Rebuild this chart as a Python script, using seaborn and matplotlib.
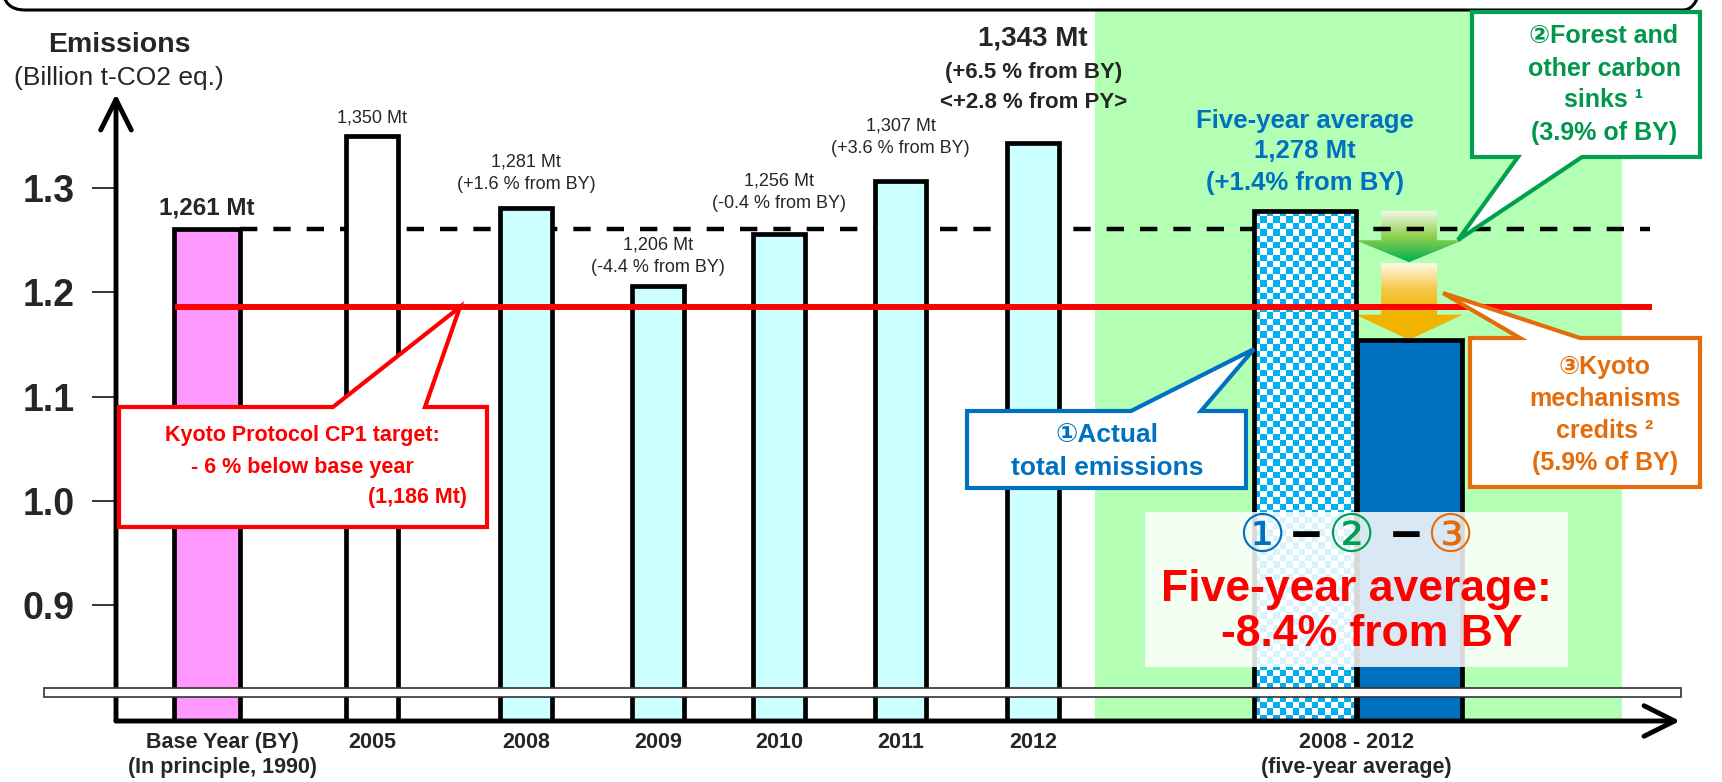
import numpy as np
import matplotlib
matplotlib.use('Agg')
import matplotlib.pyplot as plt
import matplotlib.transforms as mtransforms
from matplotlib.patches import Rectangle, Polygon, FancyBboxPatch
from matplotlib.colors import LinearSegmentedColormap, ListedColormap
import seaborn as sns

# ---- data: GHG emissions, billion t-CO2 eq. ----
categories = ['Base Year (BY)\n(In principle, 1990)', '2005', '2008', '2009',
              '2010', '2011', '2012']
emissions = [1.261, 1.350, 1.281, 1.206, 1.256, 1.307, 1.343]
pct_from_by = [None, None, 1.6, -4.4, -0.4, 3.6, 6.5]
pct_from_py_2012 = 2.8
avg_category = '2008 - 2012\n(five-year average)'
avg_emissions = 1.278
avg_pct_from_by = 1.4
target = 1.186            # Kyoto CP1 target, -6 % below BY
sinks_pct_of_by = 3.9
credits_pct_of_by = 5.9
final_pct_from_by = -8.4
yticks = [0.9, 1.0, 1.1, 1.2, 1.3]

base = emissions[0]
after_sinks = avg_emissions - base * sinks_pct_of_by / 100
after_credits = after_sinks - base * credits_pct_of_by / 100

sns.set_style('white')
plt.rcParams['font.family'] = ['Liberation Sans', 'DejaVu Sans', 'Noto Sans CJK JP']

BLUE, GREEN, ORANGE, RED = '#0070C0', '#00A050', '#E46C0A', '#FF0000'

W, H = 1722, 782
fig = plt.figure(figsize=(W / 100, H / 100), dpi=100)
pix = mtransforms.Affine2D().scale(1 / W, -1 / H).translate(0, 1) + fig.transFigure

YLO, YHI, XMAX = 0.789, 1.39, 28
ax = fig.add_axes([116 / W, (H - 721) / H, 1564 / W, (721 - 94) / H])
ax.set_facecolor('none')
for s in ax.spines.values():
    s.set_visible(False)
xppu = 1564 / XMAX
yppu = (721 - 94) / (YHI - YLO)

# layout of the bars
bar_x = [1.63, 4.58, 7.34, 9.70, 11.87, 14.05, 16.42]
bar_w = [1.19] + [0.92] * 6
bar_c = ['#FF99FF', 'white'] + ['#CCFFFF'] * 5
avg_x, avg_w = 21.29, 1.83
net_x, net_w = 23.15, 1.88
EDGE = 3.4

# green period background
ax.add_patch(Rectangle((17.53, YLO), 9.43, 1.4696 - YLO, fc='#B3FFB3', ec='none',
                       zorder=0, clip_on=False))

ax.bar(bar_x, emissions, width=bar_w, color=bar_c, edgecolor='black',
       linewidth=EDGE, zorder=3)

# five-year average (checkered) bar
cb = ax.bar(avg_x, avg_emissions, width=avg_w, color='white', zorder=3)[0]
ncol = 16
sq = avg_w / ncol * xppu
nrow = int(round((avg_emissions - YLO) * yppu / sq))
board = np.indices((nrow, ncol)).sum(axis=0) % 2
im = ax.imshow(board, extent=[cb.get_x(), cb.get_x() + cb.get_width(), YLO, avg_emissions],
               cmap=ListedColormap(['white', '#00B0F0']), interpolation='nearest',
               aspect='auto', origin='lower', zorder=3.1)
im.set_clip_path(cb)
ax.bar(avg_x, avg_emissions, width=avg_w, fill=False, edgecolor='black',
       linewidth=EDGE, zorder=3.2)
ax.bar(net_x, after_credits, width=net_w, color=BLUE, edgecolor='black',
       linewidth=EDGE, zorder=3)

# reference lines
ax.hlines(base, bar_x[0] + bar_w[0] / 2, 27.46, colors='black', lw=3.2,
          linestyles=(0, (3.9, 3.6)), zorder=2.5)
ax.hlines(target, 1.06, 27.5, colors=RED, lw=4.3, zorder=5)


def grad_arrow(xc, ytop, ytip, head, colors):
    hw, sw = 0.96, 0.5
    verts = [(xc - sw, ytop), (xc + sw, ytop), (xc + sw, ytip + head), (xc + hw, ytip + head),
             (xc, ytip), (xc - hw, ytip + head), (xc - sw, ytip + head)]
    poly = Polygon(verts, closed=True, fc='none', ec='none')
    ax.add_patch(poly)
    g = np.linspace(0, 1, 256).reshape(-1, 1)
    img = ax.imshow(g, extent=[xc - hw, xc + hw, ytip, ytop], origin='upper', aspect='auto',
                    cmap=LinearSegmentedColormap.from_list('g', colors), zorder=2.2)
    img.set_clip_path(poly)


grad_arrow(net_x, avg_emissions, after_sinks, 0.021, ['#F4FAEC', '#92D050', '#00B050'])
grad_arrow(net_x, after_sinks - 0.001, after_credits, 0.024,
           ['#FFFBEA', '#F6C94A', '#F0B400', '#F0B400'])

# broken-axis strip
ax.add_patch(Rectangle((-1.29, 0.8118), 29.31, 0.0086, fc='white', ec='#333333', lw=1.2,
                       zorder=6, clip_on=False))

# axes with arrow heads
arr = dict(arrowstyle='->,head_length=1.1,head_width=0.55', lw=3.5, color='black',
           shrinkA=0, shrinkB=0, mutation_scale=20)
ax.annotate('', xy=(XMAX, YLO), xytext=(0, YLO), arrowprops=arr, annotation_clip=False,
            zorder=5.5)
ax.annotate('', xy=(0, YHI), xytext=(0, YLO), arrowprops=arr, annotation_clip=False,
            zorder=5.5)


def stack(x, y, lines, gaps, **kw):
    for line, g in zip(lines, gaps):
        ax.annotate(line, xy=(x, y), xytext=(0, g), textcoords='offset pixels', ha='center',
                    va='center', annotation_clip=False, zorder=7, **kw)


label_gap = [21, 18, 23, 18, 30, 32, 41]
for i, (x, v) in enumerate(zip(bar_x, emissions)):
    mt = f'{v * 1000:,.0f} Mt'
    if i == 0:
        stack(x, v, [mt], [label_gap[i]], fontsize=17.5, fontweight='bold')
    elif i == len(emissions) - 1:
        stack(x, v, [mt], [label_gap[i] + 64], fontsize=20, fontweight='bold')
        stack(x, v, [f'({pct_from_by[i]:+.1f} % from BY)', f'<{pct_from_py_2012:+.1f} % from PY>'],
              [label_gap[i] + 30, label_gap[i]], fontsize=16, fontweight='bold')
    elif pct_from_by[i] is None:
        stack(x, v, [mt], [label_gap[i]], fontsize=13)
    else:
        stack(x, v, [mt, f'({pct_from_by[i]:+.1f} % from BY)'],
              [label_gap[i] + 23, label_gap[i]], fontsize=13)

stack(avg_x, avg_emissions,
      ['Five-year average', f'{avg_emissions * 1000:,.0f} Mt', f'({avg_pct_from_by:+.1f}% from BY)'],
      [90, 60, 28], fontsize=18.5, fontweight='bold', color=BLUE)

# ticks
ax.set_yticks(yticks, labels=[f'{t:.1f}' for t in yticks], fontsize=27, fontweight='bold')
ax.tick_params(axis='y', length=17, width=1.1, direction='out', pad=13, color='black',
               left=True)
label_x = [bar_x[0] + 0.27] + bar_x[1:] + [avg_x + avg_w / 2]
ax.set_xticks(label_x, labels=categories + [avg_category], fontsize=15.5,
              fontweight='bold', linespacing=1.25)
ax.tick_params(axis='x', length=0, pad=8)
ax.set_xlim(0, XMAX)
ax.set_ylim(YLO, YHI)
ax.set_aspect('auto')

# ---- figure-level decorations (pixel layout) ----
fig.add_artist(FancyBboxPatch((3, -80), 1702, 90, boxstyle='round,pad=0,rounding_size=22',
                              transform=pix, fc='none', ec='black', lw=2.2))


def ftext(x, y, s, **kw):
    kw.setdefault('ha', 'center')
    fig.text(x, y, s, transform=pix, va='center', zorder=10, **kw)


ftext(119, 45, 'Emissions', fontsize=20.5, fontweight='bold')
ftext(119, 78, '(Billion t-CO2 eq.)', fontsize=19)


def callout(box, side, b0, b1, tip, color):
    x0, y0, x1, y1 = box
    if side == 'top':
        verts = [(x0, y0), (b0, y0), tip, (b1, y0), (x1, y0), (x1, y1), (x0, y1)]
    else:
        verts = [(x0, y0), (x1, y0), (x1, y1), (b1, y1), tip, (b0, y1), (x0, y1)]
    fig.add_artist(Polygon(verts, closed=True, transform=pix, fc='white', ec=color, lw=3,
                           joinstyle='miter', zorder=8))


callout((119, 407, 487, 527), 'top', 333, 425, (460, 307), RED)
ftext(302, 435, 'Kyoto Protocol CP1 target:', fontsize=15.5, fontweight='bold', color=RED)
ftext(302, 467, '- 6 % below base year', fontsize=15.5, fontweight='bold', color=RED)
ftext(467, 498, f'({target * 1000:,.0f} Mt)', fontsize=15.5, fontweight='bold', color=RED,
      ha='right')

callout((967, 411, 1246, 488), 'top', 1131, 1201, (1254, 349), BLUE)
ftext(1107, 435, '①Actual', fontsize=19, fontweight='bold', color=BLUE)
ftext(1107, 468, 'total emissions', fontsize=19, fontweight='bold', color=BLUE)

callout((1472, 12, 1700, 157), 'bottom', 1518, 1582, (1458, 240), GREEN)
for s, y in zip(['②Forest and', 'other carbon', 'sinks ¹', f'({sinks_pct_of_by}% of BY)'],
                [36, 69, 100, 133]):
    ftext(1604, y, s, fontsize=18, fontweight='bold', color='#00964B')

callout((1470, 338, 1700, 487), 'top', 1520, 1580, (1443, 293), ORANGE)
for s, y in zip(['③Kyoto', 'mechanisms', 'credits ²', f'({credits_pct_of_by}% of BY)'],
                [367, 399, 431, 463]):
    ftext(1605, y, s, fontsize=18, fontweight='bold', color=ORANGE)

fig.add_artist(Rectangle((1145, 512), 423, 155, transform=pix, fc='white', ec='none',
                         alpha=0.85, zorder=7.5))
for s, x, c, fw in [('①', 1262, BLUE, 'normal'), ('−', 1306, 'black', 'bold'),
                    ('②', 1351, GREEN, 'normal'), ('−', 1406, 'black', 'bold'),
                    ('③', 1450, ORANGE, 'normal')]:
    ftext(x, 538, s, fontsize=38, fontweight=fw, color=c)
ftext(1356, 590, 'Five-year average:', fontsize=32, fontweight='bold', color=RED)
ftext(1372, 634, f'{final_pct_from_by:.1f}% from BY', fontsize=32, fontweight='bold', color=RED)

fig.savefig('out.png', dpi=100)
